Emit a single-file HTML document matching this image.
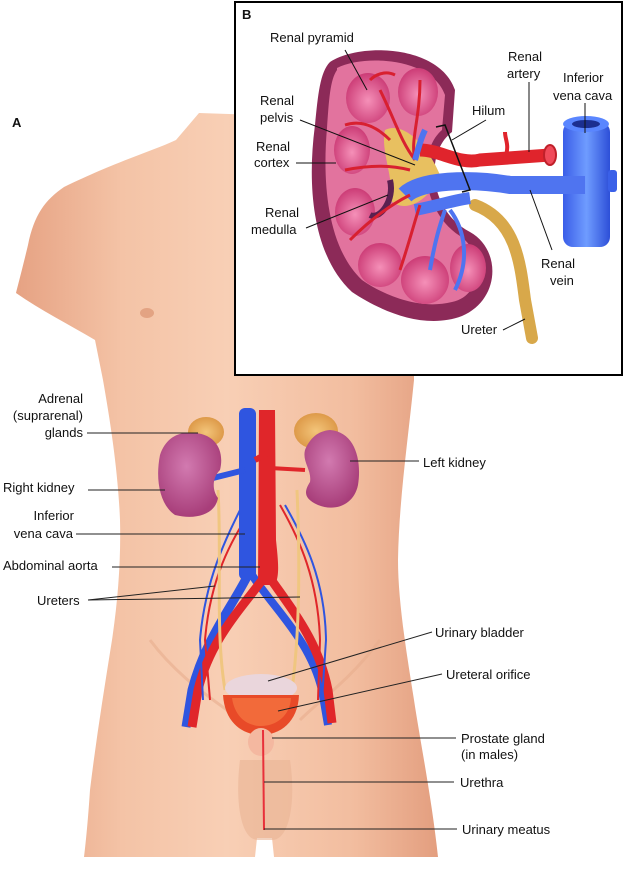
<!DOCTYPE html>
<html><head><meta charset="utf-8"><style>
html,body{margin:0;padding:0;background:#fff}
svg{display:block}
text{font-family:"Liberation Sans",Arial,sans-serif;font-size:13px;fill:#111}
</style></head><body>
<svg width="625" height="879" viewBox="0 0 625 879" xmlns="http://www.w3.org/2000/svg">
<defs>
<linearGradient id="skin" x1="0" x2="1" y1="0" y2="0">
<stop offset="0" stop-color="#e6a283"/><stop offset="0.25" stop-color="#f4c3a6"/><stop offset="0.5" stop-color="#f8cfb5"/><stop offset="0.8" stop-color="#f2bd9f"/><stop offset="1" stop-color="#e39e7f"/></linearGradient>
<radialGradient id="kid" cx="0.45" cy="0.4" r="0.6"><stop offset="0" stop-color="#d27ab0"/><stop offset="1" stop-color="#a83e7a"/></radialGradient>
<radialGradient id="pyr" cx="0.5" cy="0.55" r="0.6"><stop offset="0" stop-color="#f590b8"/><stop offset="1" stop-color="#c83470"/></radialGradient>
<radialGradient id="adr" cx="0.5" cy="0.5" r="0.6"><stop offset="0" stop-color="#f3c57a"/><stop offset="1" stop-color="#d9913f"/></radialGradient>
<linearGradient id="ivc" x1="0" x2="1"><stop offset="0" stop-color="#3a5de8"/><stop offset="0.5" stop-color="#6f9cff"/><stop offset="1" stop-color="#2d4fd8"/></linearGradient>
</defs>

<path d="M199,113 L176,140 C150,152 120,160 64,187 C45,200 34,215 28,245 C22,270 18,285 16,293 C40,310 70,325 95,340 L103,380 C110,420 118,470 120,520 C121,560 118,600 112,640 C104,690 96,740 90,790 C88,820 86,840 84,857 L255,857 L257,838 L272,838 L274,857 L438,857 C432,800 420,740 414,700 C406,650 398,600 398,560 C399,500 408,440 414,380 L414,120 Z" fill="url(#skin)"/>
<ellipse cx="147" cy="313" rx="7" ry="5" fill="#e3a383"/>
<path d="M150,640 C180,680 215,700 240,720" stroke="#e7ad8d" stroke-width="3" fill="none" opacity="0.6"/>
<path d="M380,640 C350,680 320,700 300,720" stroke="#e7ad8d" stroke-width="3" fill="none" opacity="0.6"/>
<path d="M240,760 C235,800 240,840 258,840 L272,840 C290,840 296,800 290,760 Z" fill="#eab495" opacity="0.6"/>

<path d="M248,575 C230,610 205,640 192,690 L186,727" stroke="#2f55e0" stroke-width="9" fill="none"/>
<path d="M252,575 C275,610 310,640 322,690 L328,725" stroke="#2f55e0" stroke-width="8" fill="none"/>
<path d="M266,575 C240,610 210,640 198,690 L192,727" stroke="#e0262a" stroke-width="9" fill="none"/>
<path d="M268,575 C292,610 318,640 328,690 L332,723" stroke="#e0262a" stroke-width="9" fill="none"/>
<path d="M255,505 C230,540 210,580 205,640 L210,700" stroke="#e0262a" stroke-width="2" fill="none"/>
<path d="M245,500 C225,540 205,580 200,640 L203,700" stroke="#2f55e0" stroke-width="2" fill="none"/>
<path d="M280,505 C300,540 318,580 320,640 L318,700" stroke="#e0262a" stroke-width="2" fill="none"/>
<path d="M285,505 C305,540 325,580 326,640 L322,700" stroke="#2f55e0" stroke-width="2" fill="none"/>
<rect x="239" y="408" width="17" height="172" rx="6" fill="#2f55e0"/>
<path d="M259,410 L275,410 L276,540 C278,560 280,575 275,585 L258,585 Z" fill="#e0262a"/>
<path d="M205,480 L245,470" stroke="#2f55e0" stroke-width="6"/>
<path d="M270,468 L305,470" stroke="#e0262a" stroke-width="4"/>
<path d="M255,460 L270,452" stroke="#e0262a" stroke-width="6"/>
<path d="M218,490 C222,560 215,630 225,690" stroke="#f0c680" stroke-width="3" fill="none"/>
<path d="M297,490 C300,560 300,630 292,690" stroke="#f0c680" stroke-width="3" fill="none"/>
<ellipse cx="206" cy="432" rx="18" ry="15" fill="url(#adr)"/>
<ellipse cx="316" cy="431" rx="22" ry="18" fill="url(#adr)"/>
<path d="M185,433 C215,430 225,450 220,470 C212,478 212,490 218,498 C215,515 195,520 175,515 C160,505 155,480 160,455 C165,440 175,434 185,433 Z" fill="url(#kid)"/>
<path d="M330,430 C355,432 362,460 358,485 C354,505 335,512 318,505 C302,498 305,490 310,482 C312,470 302,462 305,450 C310,438 318,431 330,430 Z" fill="url(#kid)"/>
<ellipse cx="261" cy="688" rx="36" ry="14" fill="#ead6dc"/>
<path d="M223,695 C225,725 245,735 261,735 C280,735 298,722 299,695 Z" fill="#e84a28"/>
<path d="M232,698 C235,718 248,726 261,726 C276,726 290,716 291,698 Z" fill="#f26a3a"/>
<ellipse cx="261" cy="742" rx="13" ry="14" fill="#f4b8a0"/>
<line x1="263" y1="730" x2="264" y2="830" stroke="#e8303a" stroke-width="2"/>

<text x="12" y="127" style="font-weight:bold;font-size:13px">A</text>
<text x="83" y="403" text-anchor="end">Adrenal</text>
<text x="83" y="420" text-anchor="end">(suprarenal)</text>
<text x="83" y="437" text-anchor="end">glands</text>
<line x1="87" y1="433" x2="198" y2="433" stroke="#222"/>
<text x="3" y="492">Right kidney</text>
<line x1="88" y1="490" x2="165" y2="490" stroke="#222"/>
<text x="74" y="520" text-anchor="end">Inferior</text>
<text x="73" y="538" text-anchor="end">vena cava</text>
<line x1="76" y1="534" x2="245" y2="534" stroke="#222"/>
<text x="3" y="570">Abdominal aorta</text>
<line x1="112" y1="567" x2="260" y2="567" stroke="#222"/>
<text x="37" y="605">Ureters</text>
<line x1="88" y1="600" x2="215" y2="586" stroke="#222"/>
<line x1="88" y1="600" x2="300" y2="597" stroke="#222"/>
<text x="423" y="467">Left kidney</text>
<line x1="350" y1="461" x2="419" y2="461" stroke="#222"/>
<text x="435" y="637">Urinary bladder</text>
<line x1="432" y1="632" x2="268" y2="681" stroke="#222"/>
<text x="446" y="679">Ureteral orifice</text>
<line x1="442" y1="674" x2="278" y2="711" stroke="#222"/>
<text x="461" y="743">Prostate gland</text>
<text x="461" y="759">(in males)</text>
<line x1="272" y1="738" x2="456" y2="738" stroke="#222"/>
<text x="460" y="787">Urethra</text>
<line x1="264" y1="782" x2="454" y2="782" stroke="#222"/>
<text x="462" y="834">Urinary meatus</text>
<line x1="264" y1="829" x2="457" y2="829" stroke="#222"/>

<rect x="235" y="2" width="387" height="373" fill="#fff" stroke="#000" stroke-width="2"/>
<text x="242" y="19" style="font-weight:bold">B</text>
<rect x="563" y="122" width="47" height="125" rx="10" fill="url(#ivc)"/>
<ellipse cx="586" cy="124" rx="23" ry="8" fill="#5a86ff"/>
<ellipse cx="586" cy="124" rx="14" ry="4" fill="#1c2f90"/>
<rect x="608" y="170" width="9" height="22" rx="3" fill="#3a60e8"/>
<path d="M475,205 C515,220 520,260 525,300 L532,338" stroke="#d8a84a" stroke-width="12" fill="none" stroke-linecap="round"/>
<path d="M330,62 C360,42 440,45 455,90 L452,132 C425,152 428,210 470,232 C502,250 500,300 462,316 C425,330 382,312 352,292 C312,255 307,185 315,125 C318,95 320,72 330,62 Z" fill="#8c2a58"/>
<path d="M337,68 C365,54 432,58 445,95 L442,130 C418,150 420,210 460,236 C486,254 482,296 452,302 C420,310 385,296 362,280 C328,248 322,185 327,128 C329,100 330,80 337,70 Z" fill="#e2739e"/>
<path d="M345,80 L372,110 C360,120 350,110 345,80 Z" fill="#c64a80" opacity="0"/>
<ellipse cx="368" cy="98" rx="22" ry="25" fill="url(#pyr)"/>
<ellipse cx="418" cy="92" rx="20" ry="24" fill="url(#pyr)"/>
<ellipse cx="352" cy="150" rx="18" ry="24" fill="url(#pyr)"/>
<ellipse cx="355" cy="212" rx="20" ry="24" fill="url(#pyr)"/>
<ellipse cx="380" cy="265" rx="22" ry="22" fill="url(#pyr)"/>
<ellipse cx="425" cy="280" rx="24" ry="24" fill="url(#pyr)"/>
<ellipse cx="468" cy="268" rx="18" ry="24" fill="url(#pyr)"/>
<path d="M385,130 C405,120 430,150 440,175 C430,200 405,215 390,200 C395,180 380,150 385,130 Z" fill="#e8c060"/>
<path d="M390,180 C395,200 380,220 370,215" stroke="#5a2050" stroke-width="6" fill="none"/>
<path d="M405,195 C420,180 470,178 510,185 L585,185" stroke="#4f74f0" stroke-width="18" fill="none"/>
<path d="M415,210 C440,205 455,200 470,198" stroke="#4f74f0" stroke-width="12" fill="none"/>
<path d="M430,270 C435,240 440,225 445,210 M455,290 C470,260 465,230 450,210" stroke="#4f74f0" stroke-width="4" fill="none"/>
<path d="M420,150 C440,150 460,165 480,160 L550,155" stroke="#e0242c" stroke-width="13" fill="none"/>
<ellipse cx="550" cy="155" rx="6" ry="10" fill="#f04a5a" stroke="#c0202a" stroke-width="2"/>
<path d="M505,158 C510,145 505,140 505,132" stroke="#e0242c" stroke-width="4" fill="none"/>
<path d="M380,90 C395,120 400,140 415,160 M420,80 C420,120 410,140 415,160 M345,170 C370,165 390,165 410,170 M350,240 C370,220 390,205 410,195 M400,270 C410,240 415,220 420,205 M345,125 C360,120 375,125 390,140 M395,75 C385,70 375,75 370,80" stroke="#d82030" stroke-width="3" fill="none"/>
<path d="M415,160 C418,150 420,140 425,130" stroke="#4f74f0" stroke-width="6" fill="none"/>
<text x="270" y="42">Renal pyramid</text>
<line x1="345" y1="50" x2="367" y2="90" stroke="#111"/>
<text x="508" y="61">Renal</text>
<text x="507" y="78">artery</text>
<line x1="529" y1="82" x2="529" y2="152" stroke="#111"/>
<text x="563" y="82">Inferior</text>
<text x="553" y="100">vena cava</text>
<line x1="585" y1="103" x2="585" y2="133" stroke="#111"/>
<text x="472" y="115">Hilum</text>
<line x1="486" y1="120" x2="452" y2="140" stroke="#111"/>
<polyline points="436,127 445,125 470,190 462,192" fill="none" stroke="#111" stroke-width="1.5"/>
<text x="260" y="105">Renal</text>
<text x="260" y="122">pelvis</text>
<line x1="300" y1="120" x2="415" y2="165" stroke="#111"/>
<text x="256" y="151">Renal</text>
<text x="254" y="167">cortex</text>
<line x1="296" y1="163" x2="336" y2="163" stroke="#111"/>
<text x="265" y="217">Renal</text>
<text x="251" y="234">medulla</text>
<line x1="306" y1="228" x2="388" y2="195" stroke="#111"/>
<text x="541" y="268">Renal</text>
<text x="550" y="285">vein</text>
<line x1="530" y1="190" x2="552" y2="250" stroke="#111"/>
<text x="461" y="334">Ureter</text>
<line x1="503" y1="330" x2="525" y2="319" stroke="#111"/>
</svg>
</body></html>
